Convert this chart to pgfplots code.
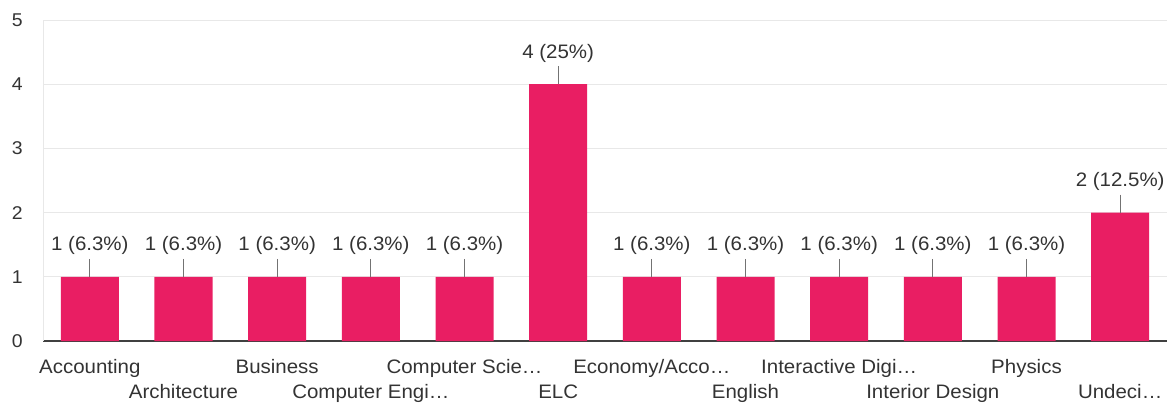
\documentclass[border=0pt]{standalone}
\usepackage{pgfplots}
\usepackage{pgfplotstable}
\pgfplotsset{compat=1.18}
\usepackage{fontspec}
\setmainfont{Liberation Sans}[FakeStretch=1.05]
\definecolor{barc}{HTML}{E91E63}
\definecolor{txt}{HTML}{333333}
\definecolor{grd}{HTML}{E8E8E8}
\pgfplotstableread[col sep=comma]{
x,y,lab
0,1,1 (6.3\%)
1,1,1 (6.3\%)
2,1,1 (6.3\%)
3,1,1 (6.3\%)
4,1,1 (6.3\%)
5,4,4 (25\%)
6,1,1 (6.3\%)
7,1,1 (6.3\%)
8,1,1 (6.3\%)
9,1,1 (6.3\%)
10,1,1 (6.3\%)
11,2,2 (12.5\%)
}\datatable
\newcommand{\lblfont}{\fontsize{19.5}{21}\selectfont}
\begin{document}
\begin{tikzpicture}
\begin{axis}[
  anchor=south west, at={(0pt,0pt)},
  scale only axis, width=1124pt, height=321pt,
  xmin=-0.5, xmax=11.5, ymin=0, ymax=5,
  ybar, bar width=58pt,
  ytick={0,1,2,3,4,5},
  xtick={0,2,4,6,8,10},
  xticklabels={Accounting,Business,Computer Scie…,Economy/Acco…,Interactive Digi…,Physics},
  extra x ticks={1,3,5,7,9,11},
  extra x tick labels={Architecture,Computer Engi…,ELC,English,Interior Design,Undeci…},
  extra x tick style={tick label style={yshift=-25pt}},
  major tick length=0pt,
  ymajorgrids, grid style={draw=grd, line width=0.8pt},
  axis x line*=bottom, axis y line*=left,
  x axis line style={draw=black!75, line width=1.4pt, -},
  y axis line style={draw=grd, line width=0.8pt, -},
  /pgf/number format/assume math mode=true,
  xticklabel style={anchor=base, yshift=-32pt, inner sep=0pt, font=\lblfont, text=txt},
  yticklabel style={anchor=east, inner sep=0pt, xshift=-20pt, font=\fontsize{18.5}{20}\selectfont, text=txt},
  point meta=explicit symbolic,
  nodes near coords,
  every node near coord/.append style={anchor=base, yshift=26pt, inner sep=0pt, font=\lblfont, text=txt},
  clip=false,
]
\addplot[fill=barc, draw=none,
  error bars/.cd, y dir=plus, y fixed=0.28, error mark=none,
  error bar style={draw=black!55, line width=0.7pt}]
  table[x=x, y=y, meta=lab] {\datatable};
\end{axis}
\pgfresetboundingbox
\path[use as bounding box] (-43pt,-64pt) rectangle (1133pt,341pt);
\end{tikzpicture}
\end{document}
